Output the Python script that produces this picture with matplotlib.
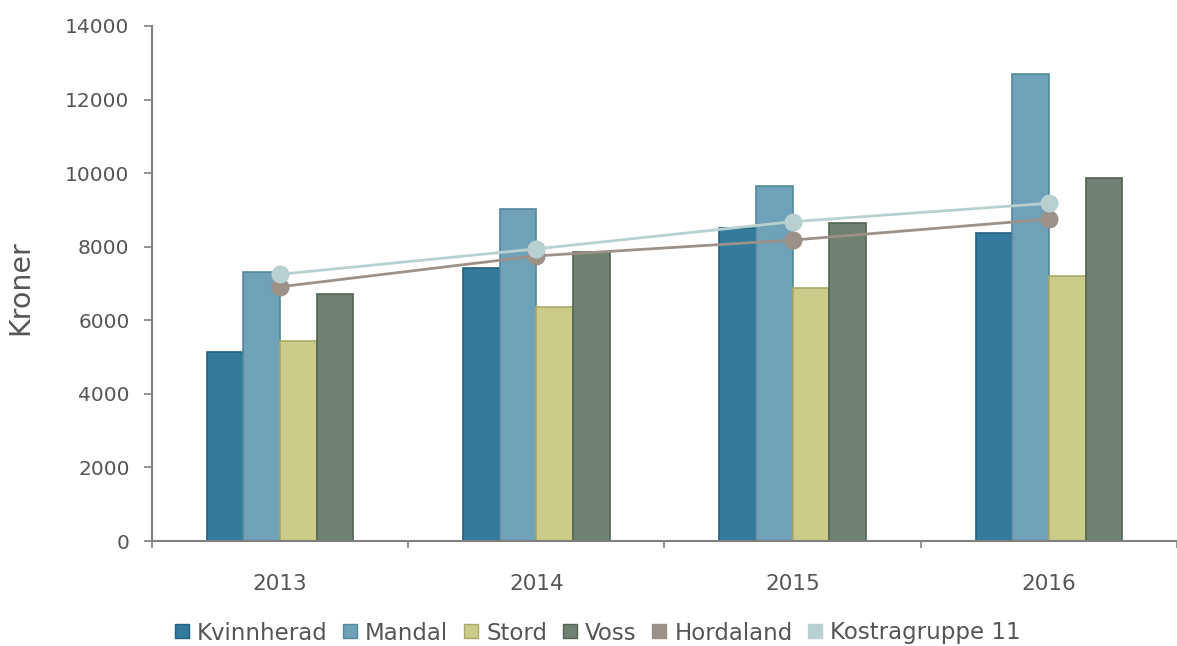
import matplotlib
matplotlib.use("Agg")
import matplotlib.pyplot as plt
import numpy as np
from matplotlib.lines import Line2D

plt.rcParams['font.family'] = ['DejaVu Sans']

years = ["2013", "2014", "2015", "2016"]
kvinnherad = [5140, 7410, 8500, 8380]
mandal = [7310, 9030, 9650, 12690]
stord = [5440, 6370, 6870, 7200]
voss = [6710, 7860, 8650, 9870]
hordaland = [6910, 7750, 8180, 8750]
kostragruppe = [7250, 7940, 8680, 9180]

bar_series = [
    ("Kvinnherad", kvinnherad, "#347a9b", "#23607e"),
    ("Mandal", mandal, "#6fa1b8", "#55879e"),
    ("Stord", stord, "#cccc8a", "#a9a96a"),
    ("Voss", voss, "#6f8170", "#526454"),
]
line_series = [
    ("Hordaland", hordaland, "#9c9189"),
    ("Kostragruppe 11", kostragruppe, "#b9d0d0"),
]

fig = plt.figure(figsize=(11.77, 6.46), dpi=100)
ax = fig.add_axes([0.129, 0.1625, 0.871, 0.7973])

x = np.arange(len(years))
w = 0.143
for i, (name, vals, fc, ec) in enumerate(bar_series):
    ax.bar(x + (i - 1.5) * w, vals, width=w, color=fc, edgecolor=ec, linewidth=1.2, zorder=2)

for name, vals, c in line_series:
    ax.plot(x, vals, color=c, lw=2, marker='o', markersize=13, markeredgewidth=0, zorder=3)

ax.set_xlim(-0.5, 3.46)
ax.set_ylim(0, 14000)
ax.set_yticks(np.arange(0, 14001, 2000))
ax.set_xticks(x)
ax.set_xticklabels(years)
ax.set_xticks(np.arange(-0.5, 3.6, 1.0), minor=True)
ax.tick_params(axis='x', which='major', length=0, pad=24, labelsize=15.5, labelcolor='#555555')
ax.tick_params(axis='x', which='minor', length=5, width=1.2, color='#808080', direction='out')
ax.tick_params(axis='y', length=6, width=1.2, color='#808080', pad=10, labelsize=14.5, labelcolor='#555555')

for s in ['top', 'right']:
    ax.spines[s].set_visible(False)
for s in ['left', 'bottom']:
    ax.spines[s].set_color('#808080')
    ax.spines[s].set_linewidth(1.5)

ax.set_ylabel("Kroner", fontsize=20.5, color='#555555')
ax.yaxis.set_label_coords((34 - 152) / 1025, 0.492)

handles = []
labels = []
for name, vals, fc, ec in bar_series:
    handles.append(Line2D([], [], marker='s', linestyle='none', markersize=10, markerfacecolor=fc, markeredgecolor=ec))
    labels.append(name)
for name, vals, c in line_series:
    handles.append(Line2D([], [], marker='s', linestyle='none', markersize=10, markerfacecolor=c, markeredgecolor=c))
    labels.append(name)

leg = fig.legend(handles, labels, loc='center', ncol=6, frameon=False,
                 fontsize=16.5, labelcolor='#555555', handletextpad=0.15, columnspacing=0.5, handlelength=1.0)
leg.set_bbox_to_anchor((0.506, 1 - 633 / 646), transform=fig.transFigure)

fig.savefig("out.png", dpi=100)
